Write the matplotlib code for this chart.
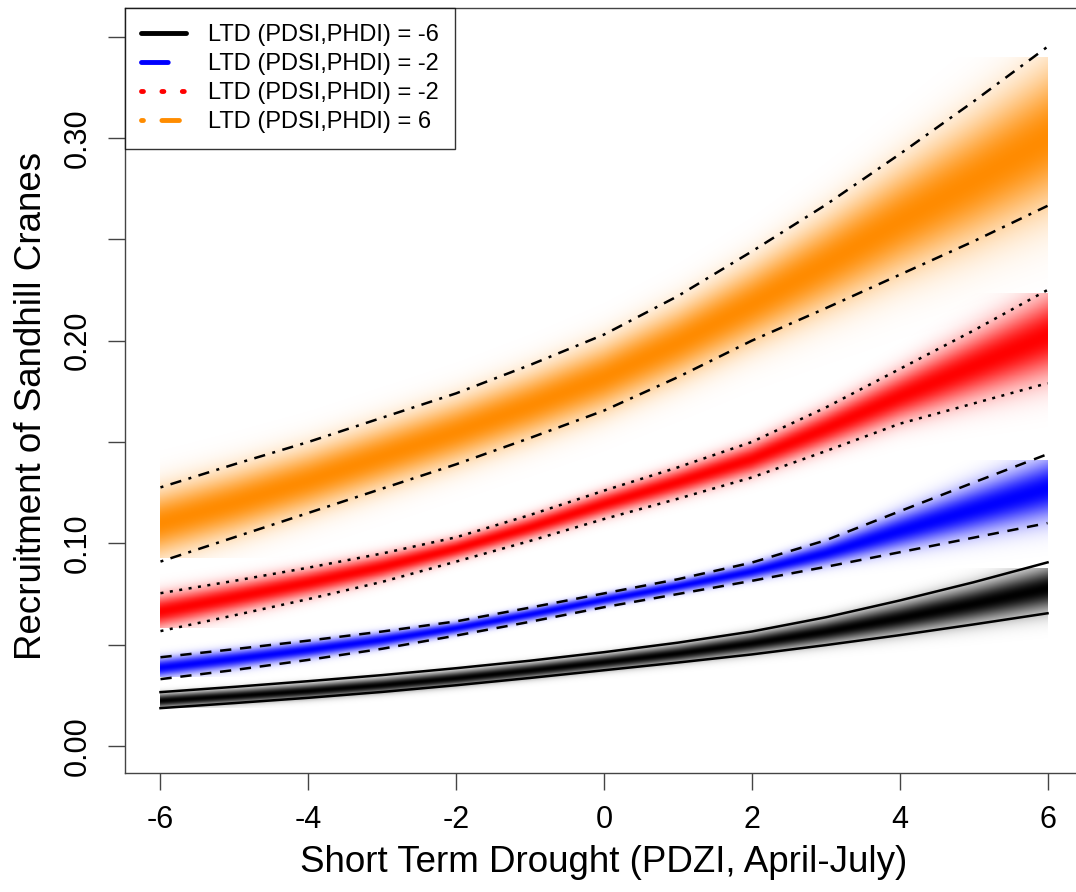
import numpy as np
import matplotlib.pyplot as plt
from matplotlib.lines import Line2D

plt.rcParams['font.family'] = ['Liberation Sans', 'DejaVu Sans']

# Short term drought (PDZI) values where the curves were read
x = np.arange(-6, 7)

# LTD = -6 (black, solid bounds)
black_hi = [0.0266, 0.0292, 0.0320, 0.0350, 0.0384, 0.0421, 0.0463, 0.0510, 0.0565, 0.0635, 0.0718, 0.0808, 0.0906]
black_lo = [0.0187, 0.0212, 0.0238, 0.0267, 0.0300, 0.0336, 0.0374, 0.0412, 0.0452, 0.0498, 0.0547, 0.0600, 0.0655]
black_mid = [0.0225, 0.0248, 0.0273, 0.0302, 0.0336, 0.0374, 0.0415, 0.0458, 0.0508, 0.0566, 0.0632, 0.0703, 0.0780]

# LTD = -2 (blue, dashed bounds)
blue_hi = [0.0438, 0.0478, 0.0520, 0.0565, 0.0615, 0.0683, 0.0753, 0.0823, 0.0905, 0.1015, 0.1158, 0.1300, 0.1440]
blue_lo = [0.0330, 0.0375, 0.0425, 0.0480, 0.0545, 0.0613, 0.0685, 0.0750, 0.0815, 0.0884, 0.0956, 0.1028, 0.1100]
blue_mid = [0.0385, 0.0428, 0.0473, 0.0522, 0.0580, 0.0648, 0.0720, 0.0787, 0.0860, 0.0950, 0.1060, 0.1165, 0.1270]

# LTD = -2 (red, dotted bounds)
red_hi = [0.0754, 0.0815, 0.0880, 0.0950, 0.1030, 0.1140, 0.1260, 0.1375, 0.1500, 0.1670, 0.1860, 0.2050, 0.2250]
red_lo = [0.0567, 0.0645, 0.0725, 0.0810, 0.0910, 0.1012, 0.1120, 0.1220, 0.1325, 0.1455, 0.1590, 0.1690, 0.1790]
red_mid = [0.0660, 0.0730, 0.0802, 0.0880, 0.0970, 0.1075, 0.1190, 0.1298, 0.1412, 0.1562, 0.1720, 0.1870, 0.2020]

# LTD = 6 (orange, dot-dash bounds)
orange_hi = [0.1276, 0.1390, 0.1500, 0.1620, 0.1740, 0.1880, 0.2030, 0.2220, 0.2440, 0.2670, 0.2920, 0.3180, 0.3450]
orange_lo = [0.0910, 0.1030, 0.1150, 0.1270, 0.1390, 0.1520, 0.1655, 0.1820, 0.2000, 0.2160, 0.2325, 0.2490, 0.2665]
orange_mid = [0.1100, 0.1200, 0.1310, 0.1430, 0.1550, 0.1680, 0.1820, 0.1990, 0.2180, 0.2380, 0.2590, 0.2790, 0.3000]

# vertical extent of each shaded density image
black_rng = (0.019, 0.088)
blue_rng = (0.034, 0.141)
red_rng = (0.058, 0.223)
orange_rng = (0.093, 0.340)

labels = ['LTD (PDSI,PHDI) = -6', 'LTD (PDSI,PHDI) = -2',
          'LTD (PDSI,PHDI) = -2', 'LTD (PDSI,PHDI) = 6']
colors = [(0, 0, 0), (0, 0, 1), (1, 0, 0), (1, 0.549, 0)]

series = [
    (black_lo, black_mid, black_hi, black_rng, '-'),
    (blue_lo, blue_mid, blue_hi, blue_rng, (0, (4.5, 3.5))),
    (red_lo, red_mid, red_hi, red_rng, (0, (1.2, 2.6))),
    (orange_lo, orange_mid, orange_hi, orange_rng, (0, (1.2, 3.0, 4.5, 3.0))),
]
legend_styles = ['-', (0, (5.5, 6)), (0, (0.4, 3.8)), (0, (0.4, 3.8, 3.6, 6))]

fig = plt.figure(figsize=(10.76, 8.92), dpi=100)
ax = fig.add_axes([125 / 1076, (892 - 773) / 892, 958 / 1076, 765 / 892])

xf = np.linspace(-6, 6, 600)
for (lo, mid, hi, rng, ls), col in zip(series, colors):
    yf = np.linspace(rng[0], rng[1], 400)
    c = np.interp(xf, x, mid)
    s = (np.interp(xf, x, hi) - np.interp(xf, x, lo)) / 3.4
    z = (yf[:, None] - c[None, :]) / s[None, :]
    img = np.zeros((len(yf), len(xf), 4))
    img[..., 0], img[..., 1], img[..., 2] = col
    img[..., 3] = np.exp(-0.5 * z ** 2)
    ax.imshow(img, extent=[-6, 6, rng[0], rng[1]], origin='lower',
              aspect='auto', interpolation='bilinear', zorder=1)
    ax.plot(x, hi, color='black', lw=1.8, linestyle=ls, zorder=3)
    ax.plot(x, lo, color='black', lw=1.8, linestyle=ls, zorder=3)

ax.set_xlim(-6.48, 6.48)
ax.set_ylim(-0.0133, 0.3641)

ax.set_xticks(np.arange(-6, 7, 2))
ax.set_xticklabels([str(v) for v in range(-6, 7, 2)])
yt = np.arange(0, 0.351, 0.05)
ax.set_yticks(yt)
ax.set_yticklabels(['%.2f' % v if i % 2 == 0 else '' for i, v in enumerate(yt)],
                   rotation=90, va='center')
ax.tick_params(direction='out', length=12, width=1, labelsize=22, color='#444444')
ax.tick_params(axis='x', pad=11)
ax.tick_params(axis='y', pad=11)
for sp in ax.spines.values():
    sp.set_color('#444444')
    sp.set_linewidth(1)

ax.set_xlabel('Short Term Drought (PDZI, April-July)', fontsize=26.5, va='center')
ax.set_ylabel('Recruitment of Sandhill Cranes', fontsize=26.5, va='center')
ax.xaxis.set_label_coords(0.5, (773 - 862) / 765)
ax.yaxis.set_label_coords((32 - 125) / 958, 0.48)

handles = [Line2D([], [], color=col, lw=3.5, linestyle=ls, solid_capstyle='round',
                  dash_capstyle='round')
           for col, ls in zip(colors, legend_styles)]
leg = ax.legend(handles, labels, loc='upper left', borderaxespad=0, fontsize=17,
                frameon=True, fancybox=False, handlelength=1.9, handletextpad=0.95,
                labelspacing=0.3, borderpad=0.68)
leg.get_frame().set_edgecolor('black')
leg.get_frame().set_linewidth(1)

fig.savefig('out.png', dpi=100)
